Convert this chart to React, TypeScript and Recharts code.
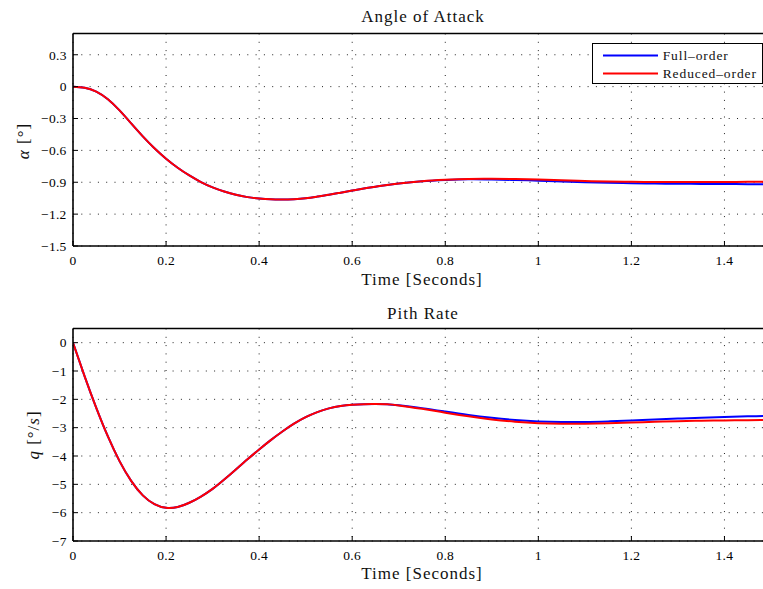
import React from 'react';
import { LineChart, Line, XAxis, YAxis, CartesianGrid, ReferenceLine } from 'recharts';

// ---------------- data ----------------
const seriesNames = ['Full\u2013order', 'Reduced\u2013order'];
const seriesColors = ['#0000ff', '#ff0000'];

const time = [
  0, 0.025, 0.05, 0.075, 0.1, 0.125, 0.15, 0.175, 0.2, 0.225, 0.25, 0.275, 0.3, 0.325, 0.35, 0.375,
  0.4, 0.425, 0.45, 0.475, 0.5, 0.525, 0.55, 0.575, 0.6, 0.625, 0.65, 0.675, 0.7, 0.75, 0.8, 0.85, 0.9,
  0.95, 1.0, 1.05, 1.1, 1.15, 1.2, 1.25, 1.3, 1.35, 1.4, 1.45, 1.5,
];

const alphaFull = [
  0, -0.01, -0.047, -0.119, -0.224, -0.346, -0.468, -0.58, -0.678, -0.763, -0.836, -0.898, -0.948,
  -0.987, -1.018, -1.04, -1.053, -1.061, -1.063, -1.059, -1.05, -1.035, -1.018, -0.998, -0.978, -0.959,
  -0.942, -0.926, -0.912, -0.891, -0.879, -0.872, -0.874, -0.879, -0.885, -0.893, -0.9, -0.905, -0.909,
  -0.912, -0.914, -0.916, -0.917, -0.918, -0.918,
];
const alphaReduced = [
  0, -0.01, -0.047, -0.119, -0.224, -0.346, -0.468, -0.58, -0.678, -0.763, -0.836, -0.898, -0.948,
  -0.987, -1.018, -1.04, -1.053, -1.061, -1.063, -1.059, -1.05, -1.035, -1.018, -0.998, -0.978, -0.959,
  -0.942, -0.926, -0.912, -0.89, -0.877, -0.869, -0.868, -0.87, -0.875, -0.882, -0.888, -0.893, -0.896,
  -0.897, -0.897, -0.897, -0.897, -0.896, -0.896,
];

const qFull = [
  0, -1.19, -2.3, -3.31, -4.18, -4.88, -5.39, -5.7, -5.83, -5.8, -5.65, -5.43, -5.16, -4.83, -4.475,
  -4.115, -3.77, -3.44, -3.135, -2.86, -2.63, -2.45, -2.32, -2.235, -2.19, -2.17, -2.165, -2.172, -2.21,
  -2.31, -2.43, -2.55, -2.65, -2.73, -2.78, -2.8, -2.8, -2.78, -2.75, -2.71, -2.68, -2.65, -2.62, -2.6,
  -2.58,
];
const qReduced = [
  0, -1.19, -2.3, -3.31, -4.18, -4.88, -5.39, -5.7, -5.83, -5.8, -5.65, -5.43, -5.16, -4.83, -4.475,
  -4.115, -3.77, -3.44, -3.135, -2.86, -2.63, -2.45, -2.32, -2.235, -2.19, -2.17, -2.167, -2.177, -2.215,
  -2.335, -2.47, -2.6, -2.71, -2.79, -2.84, -2.86, -2.86, -2.845, -2.82, -2.795, -2.77, -2.755, -2.745,
  -2.735, -2.73,
];

const xTicks = [0, 0.2, 0.4, 0.6, 0.8, 1.0, 1.2, 1.4];
const alphaTicks = [-1.5, -1.2, -0.9, -0.6, -0.3, 0, 0.3];
const qTicks = [-7, -6, -5, -4, -3, -2, -1, 0];

const titles = ['Angle of Attack', 'Pith Rate'];
const xLabel = 'Time [Seconds]';

// ---------------- helpers ----------------
const alphaRows = time.map((t, i) => ({ t, full: alphaFull[i], reduced: alphaReduced[i] }));
const qRows = time.map((t, i) => ({ t, full: qFull[i], reduced: qReduced[i] }));

const fmt = (v: number) => {
  const s = String(Number(v.toFixed(2)));
  return s.replace('-', '\u2212');
};

const FONT = '"Liberation Serif", "Times New Roman", serif';
const tickStyle = { fontFamily: FONT, fontSize: 13.5, fill: '#000', letterSpacing: 0.3 };

const CHART_W = 771;
const CHART_H = 291;
const MARGIN = { top: 33.5, right: 0, bottom: 0, left: 0 };
const OFFSET2 = 294.6;

function SubPlot({ data, domain, ticks }: { data: any[]; domain: [number, number]; ticks: number[] }) {
  return (
    <LineChart width={CHART_W} height={CHART_H} data={data} margin={MARGIN}>
      <CartesianGrid
        stroke="#222"
        strokeDasharray="1 7.3"
        strokeWidth={1}
        horizontalValues={ticks}
        verticalValues={xTicks}
      />
      <XAxis
        dataKey="t"
        type="number"
        domain={[0, 1.5]}
        ticks={xTicks}
        allowDataOverflow
        height={45}
        tick={tickStyle}
        tickFormatter={fmt}
        tickSize={-5}
        tickMargin={14.8}
        axisLine={{ stroke: '#000', strokeWidth: 1.6 }}
        tickLine={{ stroke: '#000' }}
      />
      <YAxis
        type="number"
        domain={domain}
        ticks={ticks}
        allowDataOverflow
        width={73}
        tick={tickStyle}
        tickFormatter={fmt}
        tickSize={-5}
        tickMargin={11.3}
        axisLine={{ stroke: '#000', strokeWidth: 1.6 }}
        tickLine={{ stroke: '#000' }}
      />
      <ReferenceLine y={domain[1]} stroke="#000" strokeWidth={1.6} />
      <Line
        type="natural"
        dataKey="full"
        name={seriesNames[0]}
        stroke={seriesColors[0]}
        strokeWidth={2}
        dot={false}
        isAnimationActive={false}
      />
      <Line
        type="natural"
        dataKey="reduced"
        name={seriesNames[1]}
        stroke={seriesColors[1]}
        strokeWidth={2}
        dot={false}
        isAnimationActive={false}
      />
    </LineChart>
  );
}

export default function App() {
  const labelStyle = { fontFamily: FONT, fontSize: 17, fill: '#111', letterSpacing: 1 } as const;
  return (
    <div
      style={{
        position: 'absolute',
        left: 0,
        top: 0,
        width: 763,
        height: 589,
        overflow: 'hidden',
        background: '#fff',
      }}
    >
      <div style={{ position: 'absolute', left: 0, top: 0 }}>
        <SubPlot data={alphaRows} domain={[-1.5, 0.5]} ticks={alphaTicks} />
      </div>
      <div style={{ position: 'absolute', left: 0, top: OFFSET2 }}>
        <SubPlot data={qRows} domain={[-7, 0.5]} ticks={qTicks} />
      </div>

      <svg
        width={763}
        height={589}
        style={{ position: 'absolute', left: 0, top: 0, pointerEvents: 'none' }}
      >
        <text x={423} y={22} textAnchor="middle" {...labelStyle}>
          {titles[0]}
        </text>
        <text x={423} y={24 + OFFSET2} textAnchor="middle" {...labelStyle}>
          {titles[1]}
        </text>
        <text x={422} y={284.5} textAnchor="middle" {...labelStyle}>
          {xLabel}
        </text>
        <text x={422} y={284.5 + OFFSET2} textAnchor="middle" {...labelStyle}>
          {xLabel}
        </text>
        <text transform="translate(29,141) rotate(-90)" textAnchor="middle" {...labelStyle}>
          <tspan fontStyle="italic">α</tspan> [°]
        </text>
        <text transform="translate(39,435) rotate(-90)" textAnchor="middle" {...labelStyle}>
          <tspan fontStyle="italic">q</tspan> [°/<tspan fontStyle="italic">s</tspan>]
        </text>
      </svg>

      <div
        style={{
          position: 'absolute',
          left: 591.7,
          top: 42.7,
          width: 171,
          height: 41.6,
          boxSizing: 'border-box',
          border: '1.3px solid #000',
          background: '#fff',
        }}
      >
        {seriesNames.map((name, i) => (
          <div
            key={name}
            style={{
              position: 'absolute',
              left: 0,
              top: i === 0 ? 3 : 21.7,
              height: 17,
              width: 170,
              display: 'flex',
              alignItems: 'center',
            }}
          >
            <svg width={70} height={17} style={{ display: 'block' }}>
              <line x1={10} x2={65} y1={8.5} y2={8.5} stroke={seriesColors[i]} strokeWidth={2} />
            </svg>
            <span
              style={{
                fontFamily: FONT,
                fontSize: 13.5,
                letterSpacing: 0.9,
                color: '#111',
                lineHeight: '17px',
                whiteSpace: 'nowrap',
              }}
            >
              {name}
            </span>
          </div>
        ))}
      </div>
    </div>
  );
}
